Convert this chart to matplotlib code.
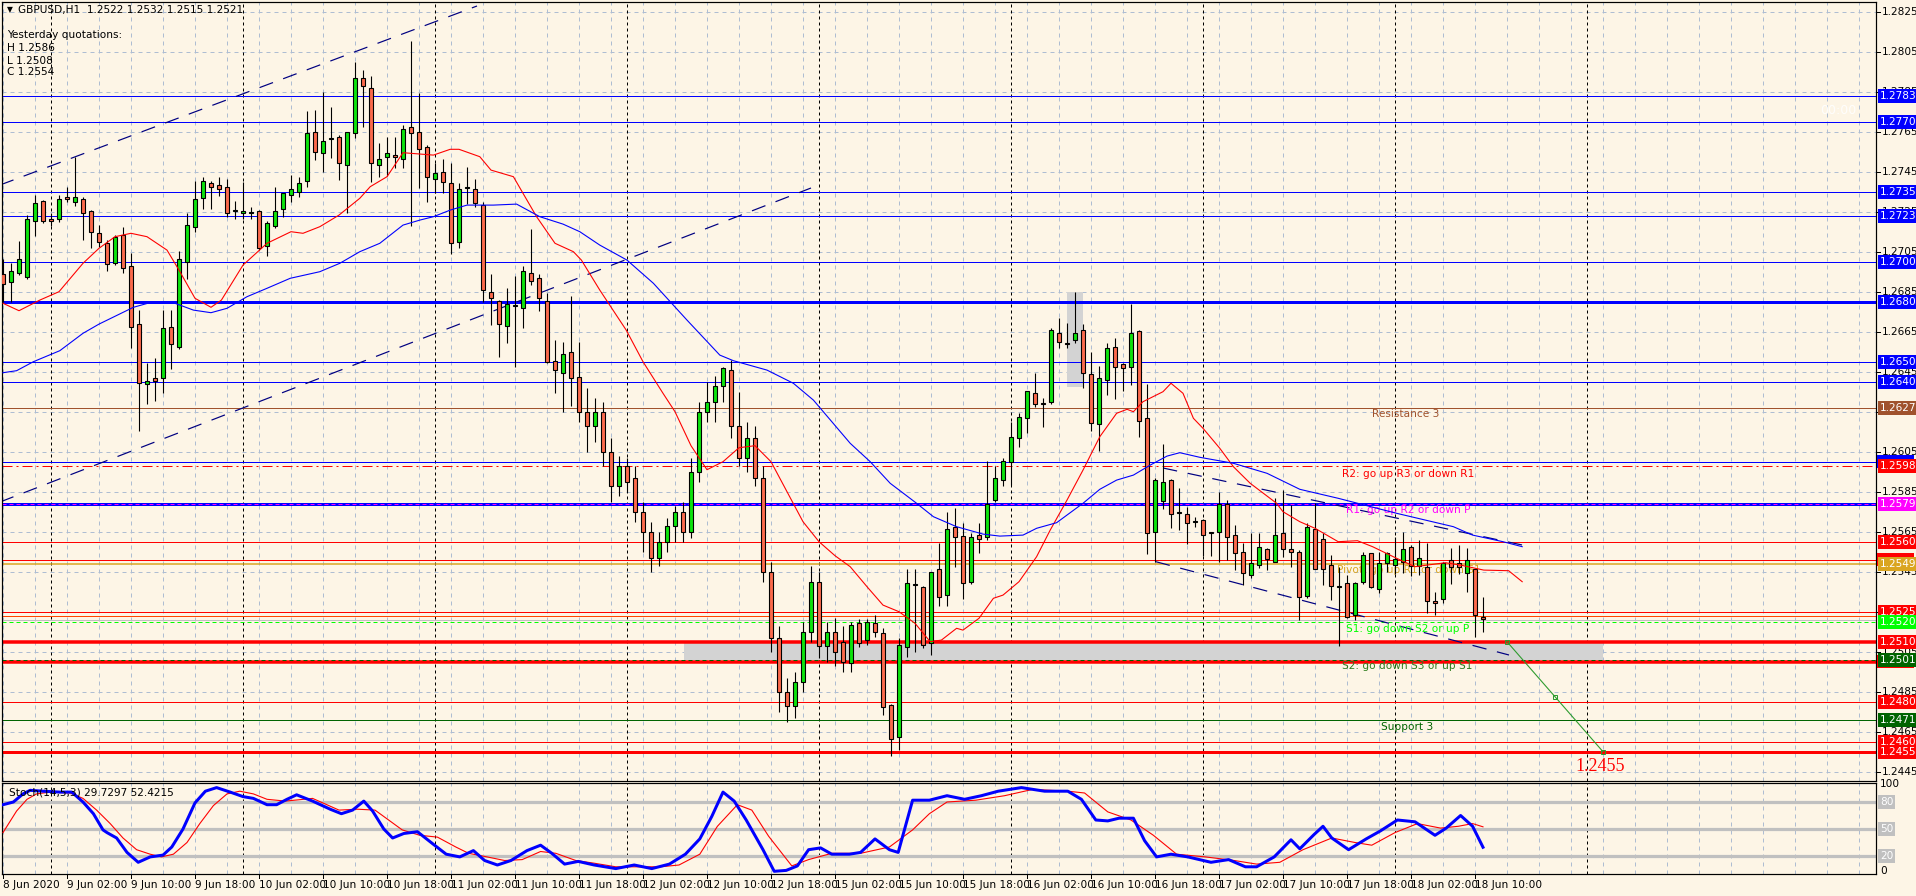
import matplotlib.pyplot as plt
import matplotlib.transforms as mtransforms
from matplotlib.patches import Rectangle

W, H, DPI = 1916, 896, 100
BG = '#fdf5e6'
GRID = '#aebdd2'

# hourly bars, first bar = 8 Jun 2020 18:00 (weekend skipped)
opens = [1.26939, 1.26897, 1.26945, 1.26925, 1.27202, 1.27304, 1.27214, 1.27212, 1.27322, 1.27300,
         1.27312, 1.27254, 1.27142, 1.27092, 1.26995, 1.27134, 1.26979, 1.26687, 1.26388, 1.26418,
         1.26417, 1.26675, 1.26575, 1.27000, 1.27172, 1.27320, 1.27392, 1.27382, 1.27372, 1.27254,
         1.27242, 1.27242, 1.27254, 1.27080, 1.27179, 1.27262, 1.27334, 1.27350, 1.27404, 1.27650,
         1.27542, 1.27612, 1.27622, 1.27482, 1.27642, 1.27920, 1.27870, 1.27482, 1.27522, 1.27534,
         1.27512, 1.27672, 1.27650, 1.27572, 1.27412, 1.27450, 1.27392, 1.27100, 1.27370, 1.27362,
         1.27284, 1.26847, 1.26805, 1.26678, 1.26778, 1.26767, 1.26945, 1.26917, 1.26805, 1.26505,
         1.26445, 1.26547, 1.26425, 1.26250, 1.26180, 1.26250, 1.26050, 1.25880, 1.25980, 1.25920,
         1.25750, 1.25650, 1.25520, 1.25600, 1.25680, 1.25750, 1.25650, 1.25950, 1.26250, 1.26300,
         1.26380, 1.26458, 1.26180, 1.26020, 1.26120, 1.25920, 1.25450, 1.25120, 1.24850, 1.24780,
         1.24900, 1.25150, 1.25400, 1.25080, 1.25150, 1.25100, 1.24992, 1.25192, 1.25108, 1.25192,
         1.25142, 1.24783, 1.24622, 1.25072, 1.25383, 1.25372, 1.25092, 1.25462, 1.25333, 1.25672,
         1.25629, 1.25400, 1.25633, 1.25622, 1.25808, 1.25908, 1.26000, 1.26120, 1.26217, 1.26345,
         1.26295, 1.26297, 1.26645, 1.26595, 1.26608, 1.26658, 1.26438, 1.26188, 1.26408, 1.26575,
         1.26487, 1.26475, 1.26655, 1.26217, 1.25650, 1.25805, 1.25908, 1.25745, 1.25737, 1.25700,
         1.25708, 1.25645, 1.25650, 1.25788, 1.25633, 1.25550, 1.25433, 1.25483, 1.25562, 1.25500,
         1.25642, 1.25562, 1.25550, 1.25328, 1.25662, 1.25612, 1.25483, 1.25378, 1.25392, 1.25233,
         1.25400, 1.25542, 1.25362, 1.25495, 1.25483, 1.25500, 1.25572, 1.25478, 1.25472, 1.25305,
         1.25312, 1.25508, 1.25495, 1.25442, 1.25462, 1.25222]
highs = [1.27012, 1.26992, 1.27104, 1.27234, 1.27334, 1.27310, 1.27242, 1.27334, 1.27372, 1.27525,
         1.27322, 1.27260, 1.27184, 1.27108, 1.27134, 1.27172, 1.27042, 1.26758, 1.26492, 1.26520,
         1.26758, 1.26758, 1.27054, 1.27242, 1.27404, 1.27422, 1.27404, 1.27422, 1.27412, 1.27304,
         1.27397, 1.27275, 1.27260, 1.27203, 1.27372, 1.27342, 1.27434, 1.27422, 1.27753, 1.27758,
         1.27850, 1.27775, 1.27634, 1.27650, 1.28000, 1.27960, 1.27930, 1.27592, 1.27622, 1.27625,
         1.27683, 1.28105, 1.27845, 1.27583, 1.27492, 1.27512, 1.27492, 1.27392, 1.27475, 1.27412,
         1.27300, 1.26938, 1.26808, 1.26867, 1.26928, 1.26978, 1.27162, 1.26940, 1.26842, 1.26608,
         1.26600, 1.26828, 1.26600, 1.26367, 1.26320, 1.26300, 1.26120, 1.26030, 1.26020, 1.25980,
         1.25800, 1.25700, 1.25650, 1.25720, 1.25780, 1.25800, 1.26020, 1.26300, 1.26400, 1.26428,
         1.26475, 1.26508, 1.26350, 1.26200, 1.26180, 1.25980, 1.25500, 1.25180, 1.24920, 1.24950,
         1.25200, 1.25480, 1.25450, 1.25200, 1.25220, 1.25180, 1.25200, 1.25212, 1.25212, 1.25233,
         1.25167, 1.24790, 1.25117, 1.25462, 1.25462, 1.25380, 1.25450, 1.25595, 1.25750, 1.25767,
         1.25695, 1.25642, 1.25692, 1.26005, 1.25978, 1.26017, 1.26200, 1.26245, 1.26355, 1.26445,
         1.26317, 1.26667, 1.26717, 1.26692, 1.26850, 1.26688, 1.26550, 1.26478, 1.26595, 1.26617,
         1.26492, 1.26788, 1.26660, 1.26388, 1.25917, 1.26088, 1.25912, 1.25867, 1.25775, 1.25725,
         1.25712, 1.25650, 1.25850, 1.25808, 1.25683, 1.25592, 1.25642, 1.25642, 1.25570, 1.25817,
         1.25858, 1.25783, 1.25560, 1.25692, 1.25792, 1.25645, 1.25533, 1.25475, 1.25433, 1.25400,
         1.25550, 1.25545, 1.25550, 1.25550, 1.25625, 1.25650, 1.25583, 1.25608, 1.25592, 1.25350,
         1.25500, 1.25567, 1.25583, 1.25567, 1.25470, 1.25322]
lows = [1.26800, 1.26800, 1.26934, 1.26915, 1.27128, 1.27195, 1.27180, 1.27200, 1.27300, 1.27278,
        1.27108, 1.27070, 1.27075, 1.26954, 1.26984, 1.26945, 1.26567, 1.26155, 1.26287, 1.26303,
        1.26345, 1.26465, 1.26565, 1.26913, 1.27150, 1.27262, 1.27262, 1.27329, 1.27225, 1.27212,
        1.27212, 1.27212, 1.27058, 1.27030, 1.27167, 1.27225, 1.27300, 1.27322, 1.27372, 1.27508,
        1.27450, 1.27520, 1.27408, 1.27242, 1.27620, 1.27675, 1.27400, 1.27422, 1.27428, 1.27467,
        1.27467, 1.27178, 1.27367, 1.27300, 1.27342, 1.27342, 1.27038, 1.27067, 1.27289, 1.27272,
        1.26800, 1.26683, 1.26525, 1.26595, 1.26475, 1.26667, 1.26883, 1.26755, 1.26495, 1.26345,
        1.26250, 1.26280, 1.26200, 1.26050, 1.26100, 1.25980, 1.25800, 1.25830, 1.25850, 1.25700,
        1.25550, 1.25450, 1.25480, 1.25550, 1.25600, 1.25600, 1.25620, 1.25900, 1.26200, 1.26200,
        1.26300, 1.26120, 1.25980, 1.25950, 1.25880, 1.25400, 1.25050, 1.24750, 1.24700, 1.24720,
        1.24850, 1.25100, 1.25020, 1.25000, 1.24980, 1.24950, 1.24950, 1.25075, 1.25085, 1.25122,
        1.24733, 1.24530, 1.24560, 1.25022, 1.25050, 1.25067, 1.25034, 1.25278, 1.25278, 1.25475,
        1.25312, 1.25390, 1.25542, 1.25608, 1.25800, 1.25880, 1.25883, 1.26075, 1.26145, 1.26272,
        1.26175, 1.26288, 1.26567, 1.26567, 1.26595, 1.26367, 1.26155, 1.26055, 1.26333, 1.26313,
        1.26355, 1.26383, 1.26125, 1.25538, 1.25500, 1.25762, 1.25670, 1.25658, 1.25588, 1.25675,
        1.25528, 1.25528, 1.25500, 1.25508, 1.25458, 1.25383, 1.25417, 1.25467, 1.25458, 1.25500,
        1.25525, 1.25475, 1.25208, 1.25320, 1.25462, 1.25383, 1.25308, 1.25080, 1.25220, 1.25208,
        1.25390, 1.25367, 1.25342, 1.25450, 1.25437, 1.25445, 1.25430, 1.25433, 1.25242, 1.25233,
        1.25295, 1.25388, 1.25440, 1.25350, 1.25122, 1.25150]
closes = [1.26889, 1.26955, 1.27012, 1.27212, 1.27292, 1.27202, 1.27202, 1.27312, 1.27312, 1.27322,
          1.27242, 1.27150, 1.27100, 1.26987, 1.27125, 1.26967, 1.26675, 1.26395, 1.26405, 1.26405,
          1.26667, 1.26587, 1.27012, 1.27183, 1.27312, 1.27404, 1.27372, 1.27362, 1.27242, 1.27254,
          1.27254, 1.27242, 1.27070, 1.27192, 1.27254, 1.27342, 1.27362, 1.27392, 1.27642, 1.27550,
          1.27604, 1.27612, 1.27492, 1.27650, 1.27920, 1.27880, 1.27492, 1.27512, 1.27542, 1.27522,
          1.27662, 1.27642, 1.27562, 1.27422, 1.27442, 1.27400, 1.27092, 1.27362, 1.27370, 1.27292,
          1.26858, 1.26817, 1.26688, 1.26788, 1.26778, 1.26955, 1.26905, 1.26817, 1.26500, 1.26458,
          1.26537, 1.26417, 1.26250, 1.26180, 1.26250, 1.26050, 1.25880, 1.25980, 1.25900, 1.25750,
          1.25650, 1.25520, 1.25600, 1.25680, 1.25750, 1.25650, 1.25950, 1.26250, 1.26300, 1.26380,
          1.26467, 1.26180, 1.26020, 1.26120, 1.25920, 1.25450, 1.25120, 1.24850, 1.24780, 1.24900,
          1.25150, 1.25400, 1.25080, 1.25150, 1.25050, 1.25000, 1.25183, 1.25092, 1.25200, 1.25150,
          1.24775, 1.24612, 1.25083, 1.25392, 1.25383, 1.25083, 1.25450, 1.25325, 1.25662, 1.25622,
          1.25395, 1.25622, 1.25612, 1.25788, 1.25917, 1.26005, 1.26125, 1.26225, 1.26355, 1.26288,
          1.26288, 1.26658, 1.26600, 1.26587, 1.26645, 1.26445, 1.26195, 1.26417, 1.26567, 1.26475,
          1.26467, 1.26645, 1.26205, 1.25642, 1.25908, 1.25897, 1.25737, 1.25745, 1.25692, 1.25700,
          1.25633, 1.25645, 1.25788, 1.25622, 1.25542, 1.25442, 1.25492, 1.25572, 1.25512, 1.25633,
          1.25562, 1.25550, 1.25322, 1.25675, 1.25462, 1.25462, 1.25378, 1.25372, 1.25225, 1.25392,
          1.25533, 1.25372, 1.25495, 1.25542, 1.25512, 1.25562, 1.25478, 1.25520, 1.25305, 1.25295,
          1.25495, 1.25475, 1.25475, 1.25508, 1.25233, 1.25212]

# moving averages (bar position, price)
ma_red_x = [0, 2, 4.6, 7, 10, 12, 14, 16, 18, 20.5, 22, 24, 26, 27.3, 30, 33, 36, 37.5, 39.6, 42,
            44.6, 45.9, 48, 50, 53.8, 55.9, 57, 59.6, 61, 63.8, 65, 66.7, 69, 71.3, 72.3, 74.6, 77.9,
            80, 82.5, 84, 86, 88, 90, 92, 94, 96, 98, 100, 102, 104, 105.9, 108, 110, 112, 114,
            115.9, 117.3, 119.2, 120, 122, 123.8, 125, 127, 129.2, 130.9, 133, 135, 137.1, 139.2,
            140.5, 141.3, 142.5, 145, 146, 147.5, 148.8, 150, 152.1, 153.8, 155.9, 159.2, 160, 162.1,
            164, 166.9, 169.3, 171.2, 174.2, 176.5, 180.3, 182.2, 185.1, 188.2, 189.9]
ma_red_y = [1.26792, 1.26755, 1.26808, 1.26850, 1.26992, 1.27067, 1.27125, 1.27142, 1.27125, 1.27058,
            1.26958, 1.26817, 1.26772, 1.26808, 1.26983, 1.27092, 1.27150, 1.27142, 1.27175, 1.27233,
            1.27317, 1.27375, 1.27425, 1.27545, 1.27533, 1.27562, 1.27562, 1.27525, 1.27458, 1.27425,
            1.27342, 1.27225, 1.27092, 1.27050, 1.27008, 1.26858, 1.26658, 1.26500, 1.26342, 1.26250,
            1.26080, 1.25960, 1.26000, 1.26070, 1.26080, 1.26000, 1.25850, 1.25700, 1.25600, 1.25530,
            1.25475, 1.25375, 1.25283, 1.25250, 1.25192, 1.25100, 1.25108, 1.25167, 1.25158, 1.25217,
            1.25317, 1.25333, 1.25400, 1.25525, 1.25658, 1.25808, 1.25958, 1.26125, 1.26242, 1.26262,
            1.26250, 1.26300, 1.26350, 1.26392, 1.26342, 1.26217, 1.26167, 1.26067, 1.25975, 1.25892,
            1.25792, 1.25750, 1.25700, 1.25667, 1.25600, 1.25605, 1.25575, 1.25517, 1.25475, 1.25495,
            1.25483, 1.25458, 1.25455, 1.25400]
ma_blue_x = [0, 1.7, 3.8, 7.1, 10, 12, 16.3, 18.8, 21.3, 23.8, 26, 28, 30.5, 33, 35.9, 39.6, 42.1,
             44.6, 47.1, 50, 52.1, 53.8, 55.9, 58, 61.3, 64.2, 67.1, 70, 72.1, 74.6, 78, 81.3, 85.5,
             89.6, 91.3, 95.5, 98.8, 101.3, 105.9, 108.4, 110.9, 114.2, 116.3, 119.2, 122.5, 124.6,
             127.5, 129.2, 131.7, 135, 137.1, 139.2, 141.3, 143.4, 145.5, 147.1, 149.6, 153.8, 158,
             162.1, 166.9, 174.2, 181.3, 183.7, 187.5, 189.9]
ma_blue_y = [1.26445, 1.26455, 1.26500, 1.26555, 1.26642, 1.26688, 1.26772, 1.26800, 1.26795, 1.26758,
             1.26745, 1.26767, 1.26825, 1.26867, 1.26917, 1.26950, 1.26992, 1.27050, 1.27092, 1.27183,
             1.27208, 1.27225, 1.27258, 1.27283, 1.27283, 1.27288, 1.27225, 1.27188, 1.27150, 1.27083,
             1.27008, 1.26892, 1.26708, 1.26533, 1.26505, 1.26458, 1.26392, 1.26308, 1.26092, 1.26000,
             1.25892, 1.25792, 1.25725, 1.25675, 1.25638, 1.25628, 1.25633, 1.25667, 1.25695, 1.25792,
             1.25862, 1.25908, 1.25933, 1.25983, 1.26028, 1.26045, 1.26022, 1.25992, 1.25942, 1.25862,
             1.25817, 1.25742, 1.25675, 1.25633, 1.25600, 1.25575]

# Stochastic(14,5,3)
stoch_k_x = [0, 1.3, 2.5, 3.4, 5, 7.1, 8.6, 10, 11.3, 12.5, 13, 14.2, 15.5, 16.9, 18.4, 20, 21.1, 22.5,
             24, 25.3, 26.7, 28.4, 30, 31.3, 33, 34.2, 35.5, 36.7, 38.7, 40.9, 42.3, 43.7, 45.1, 46.2,
             47.6, 48.7, 50.1, 51.8, 53.8, 55.4, 57.1, 58.8, 60.2, 61.8, 63.5, 65.5, 67.2, 68.6, 70.2,
             71.9, 73.9, 76.6, 78.9, 81.1, 83.3, 85.3, 87.1, 88.6, 90, 91.4, 92.9, 95, 96.4, 97.9, 99.3,
             100.7, 102.2, 103.6, 105.8, 107.2, 109, 110.8, 111.9, 113.7, 115.8, 118, 120.2, 122.3,
             124.4, 127.3, 130.2, 133.1, 134.8, 136.6, 138.1, 139.5, 141.3, 142.7, 144.2, 146, 148.1,
             151, 153.2, 155.3, 156.7, 158.9, 161, 162.1, 163.9, 165, 166.1, 168.2, 170.4, 172.2,
             174.3, 176.5, 179, 180.4, 182.2, 183.7, 185]
stoch_k = [77, 80, 89, 93, 92, 91, 91, 80, 67, 49, 46, 40, 24, 13, 19, 21, 30, 50, 79, 92, 96, 91, 86,
           84, 77, 77, 83, 88, 81, 72, 67, 71, 81, 70, 50, 40, 45, 47, 33, 22, 19, 26, 15, 10, 15, 26,
           32, 23, 11, 14, 10, 6, 10, 6, 11, 22, 39, 64, 91, 81, 60, 27, 3, 4, 9, 27, 29, 22, 22, 24,
           39, 27, 24, 82, 82, 87, 83, 87, 92, 96, 92, 92, 83, 60, 59, 62, 62, 37, 19, 22, 19, 13, 16,
           8, 8, 19, 38, 28, 44, 53, 40, 27, 39, 48, 60, 58, 43, 51, 65, 53, 29.7297]
stoch_d_x = [0, 1.7, 3, 4.2, 5.9, 8.4, 10, 11.7, 13.4, 15, 16.7, 18.4, 19.8, 21.3, 23, 24.6, 26.3, 28,
             29.6, 31.3, 33, 35.3, 38.7, 42, 44.3, 46.5, 48.2, 49.9, 52.1, 54.3, 56.6, 58.2, 60.5, 62.7,
             64.9, 67.2, 69.1, 71.6, 73.9, 76.6, 79.4, 82.2, 84.5, 87.1, 89.3, 91.8, 93.6, 95.7, 98.6,
             100.7, 103.6, 107.2, 110.8, 113.7, 115.8, 118, 121.6, 125.2, 128.7, 133.1, 135.2, 138.1,
             141, 143.8, 146.7, 150.3, 153.9, 156.7, 159.6, 162.5, 166.1, 169, 171.1, 174, 176.8,
             179.7, 181.9, 183.7, 185]
stoch_d = [46, 70, 83, 89, 91, 90, 84, 71, 56, 40, 27, 22, 19, 22, 35, 56, 76, 89, 92, 89, 83, 81, 84,
           71, 72, 71, 60, 49, 43, 41, 30, 23, 19, 15, 16, 25, 23, 15, 12, 8, 8, 8, 10, 22, 53, 77,
           71, 42, 9, 16, 23, 23, 30, 49, 67, 80, 82, 87, 94, 92, 90, 69, 60, 43, 22, 19, 15, 11, 13,
           27, 40, 35, 32, 46, 56, 51, 53, 56, 52.4215]

time_labels = ['8 Jun 2020', '9 Jun 02:00', '9 Jun 10:00', '9 Jun 18:00', '10 Jun 02:00',
               '10 Jun 10:00', '10 Jun 18:00', '11 Jun 02:00', '11 Jun 10:00', '11 Jun 18:00',
               '12 Jun 02:00', '12 Jun 10:00', '12 Jun 18:00', '15 Jun 02:00', '15 Jun 10:00',
               '15 Jun 18:00', '16 Jun 02:00', '16 Jun 10:00', '16 Jun 18:00', '17 Jun 02:00',
               '17 Jun 10:00', '17 Jun 18:00', '18 Jun 02:00', '18 Jun 10:00']
day_starts = [6, 30, 54, 78, 102, 126, 150, 174, 198]

# horizontal levels: price, colour, width(px), style, label kind on the price scale
# label kind: 'text' = full label, 'strip' = label hidden behind a neighbour, None = no label
levels = [
    (1.2783, '#0000ff', 1, '-', 'text'), (1.2770, '#0000ff', 1, '-', 'text'),
    (1.2735, '#0000ff', 1, '-', 'text'), (1.2723, '#0000ff', 1, '-', 'text'),
    (1.2700, '#0000ff', 1, '-', 'text'), (1.2680, '#0000ff', 3, '-', 'text'),
    (1.2650, '#0000ff', 1, '-', 'text'), (1.2640, '#0000ff', 1, '-', 'text'),
    (1.2627, '#a0522d', 1, '-', 'text'), (1.2600, '#0000ff', 1, '-', 'strip'),
    (1.2598, '#ff0000', 1, '-.', 'text'), (1.2579, '#0000ff', 3, '-', None),
    (1.2579, '#ff00ff', 1, '--', 'text'), (1.2560, '#ff0000', 1, '-', 'text'),
    (1.2551, '#ff0000', 1, '-', 'strip'), (1.2549, '#daa520', 1.5, '-', 'text'),
    (1.2525, '#ff0000', 1, '-', 'text'), (1.2523, '#ff4500', 1, '-', None),
    (1.2521, '#c0c0c0', 1, '-', None), (1.2520, '#00ff00', 1, '--', 'text'),
    (1.2510, '#ff0000', 3.5, '-', 'text'), (1.2500, '#ff0000', 3.5, '-', 'strip'),
    (1.2501, '#006400', 1, '--', 'text'), (1.2480, '#ff0000', 1, '-', 'text'),
    (1.2471, '#006400', 1, '-', 'text'), (1.2460, '#ff0000', 1, '-', 'text'),
    (1.2455, '#ff0000', 3, '-', 'text'),
]
level_texts = [
    (171.1, 1.26239, 'Resistance 3', '#a0522d'),
    (167.4, 1.25939, 'R2: go up R3 or down R1', '#ff0000'),
    (167.9, 1.25759, 'R1: go up R2 or down P', '#ff00ff'),
    (166.75, 1.25459, 'Pivot: go up R1 or down S1', '#daa520'),
    (167.9, 1.25164, 'S1: go down S2 or up P', '#00ff00'),
    (167.4, 1.24979, 'S2: go down S3 or up S1', '#2e7d1e'),
    (172.25, 1.24674, 'Support 3', '#006400'),
]
trend_lines = [
    ([-0.375, 59.25], [1.273835, 1.282785]),
    ([-0.375, 101.0], [1.257985, 1.273685]),
    ([145.0, 189.9], [1.259685, 1.255835]),
    ([144.1, 188.25], [1.25500, 1.250335]),
]
target_x = [188, 194, 200]
target_y = [1.2510, 1.24825, 1.2455]

PX = 72 / DPI  # one pixel in points
fig = plt.figure(figsize=(W / DPI, H / DPI), dpi=DPI, facecolor=BG)


def px_rect(x0, y0, x1, y1):
    return [x0 / W, 1 - y1 / H, (x1 - x0) / W, (y1 - y0) / H]


ax = fig.add_axes(px_rect(2, 2, 1876, 781))
st = fig.add_axes(px_rect(2, 783, 1876, 874))
xlim = ((2 - 3) / 8, (1876 - 3) / 8)
p_top = 1.2445 + (771.7 - 2) / 20000
p_bot = 1.2445 - (781 - 771.7) / 20000
price_ticks = [1.2445 + 0.002 * k for k in range(20)]

for a in (ax, st):
    a.set_facecolor(BG)
    a.set_xlim(*xlim)
    a.set_xticks([])
    a.set_yticks([])
    for s in a.spines.values():
        s.set_color('black')
        s.set_linewidth(1.2 * PX)
    for g in range(0, 236, 4):
        a.axvline(g, color=GRID, lw=PX, ls=(0, (4, 4)), zorder=0.5)
    for d in day_starts:
        a.axvline(d, color='black', lw=PX, ls=(0, (3, 3)), zorder=0.6)

ax.set_ylim(p_bot, p_top)
for p in price_ticks:
    ax.axhline(p, color=GRID, lw=PX, ls=(0, (4, 4)), zorder=0.5)

# grey zones
ax.add_patch(Rectangle((85.1, 1.2501), 200 - 85.1, 0.0009, fc='#d3d3d3', ec='none', zorder=0.8))
ax.add_patch(Rectangle((133.0, 1.26372), 2.0, 0.00478, fc='#d3d3d3', ec='none', zorder=0.8))

# horizontal levels
for p, c, w, ls, _ in levels:
    dash = {'-': '-', '--': (0, (4, 3)), '-.': (0, (10, 4, 2, 4))}[ls]
    ax.axhline(p, color=c, lw=w * PX, ls=dash, zorder=1)

# trend channel lines
for xs, ys in trend_lines:
    ax.plot(xs, ys, color='#000080', lw=1.2 * PX, ls=(0, (12, 9)), zorder=1.2)

# candles
idx = list(range(len(closes)))
bottoms = [min(o, c) for o, c in zip(opens, closes)]
heights = [max(abs(c - o), 0.00004) for o, c in zip(opens, closes)]
colors = ['#0de30d' if c >= o else '#fb6a4c' for o, c in zip(opens, closes)]
ax.vlines(idx, lows, highs, color='black', lw=1.1 * PX, zorder=3)
ax.bar(idx, heights, bottom=bottoms, width=0.62, color=colors,
       edgecolor='black', linewidth=1.1 * PX, zorder=4)

# moving averages
ax.plot(ma_red_x, ma_red_y, color='#ff0000', lw=1.1 * PX, zorder=5)
ax.plot(ma_blue_x, ma_blue_y, color='#0000ff', lw=1.1 * PX, zorder=5)

# projection to target
ax.plot(target_x, target_y, color='#2e9b2e', lw=1.1 * PX, marker='s', ms=5 * PX,
        mfc='none', mec='#2e9b2e', mew=PX, zorder=5)
ax.text(196.6, 1.24478, '1.2455', color='#ff0000', fontsize=13, va='center', ha='left',
        family=['Liberation Serif', 'DejaVu Serif'], zorder=6)

for x, y, t, c in level_texts:
    ax.text(x, y, t, color=c, fontsize=7.6, va='center', ha='left', zorder=2)

# top-left info
fig.text(7 / W, 1 - 10 / H, '\u25bc', fontsize=5.5, va='center', ha='left')
fig.text(18 / W, 1 - 10 / H, 'GBPUSD,H1  1.2522 1.2532 1.2515 1.2521', fontsize=7.6,
         va='center', ha='left')
for yy, t in zip([35, 48, 61, 72], ['Yesterday quotations:', 'H 1.2586', 'L 1.2508', 'C 1.2554']):
    fig.text(7 / W, 1 - yy / H, t, fontsize=7.6, va='center', ha='left')
fig.text(1856 / W, 1 - 110 / H, '00:00', fontsize=9, color='white', alpha=0.9,
         va='center', ha='right')

# price scale
tr = mtransforms.blended_transform_factory(fig.transFigure, ax.transData)
for p in price_ticks:
    ax.plot([1876 / W, 1880 / W], [p, p], color='black', lw=PX, transform=tr, clip_on=False)
    ax.text(1882 / W, p, '%.4f' % p, fontsize=7.6, va='center', ha='left', transform=tr,
            clip_on=False)
for p, c, w, ls, kind in levels:
    if kind == 'strip':
        ax.add_patch(Rectangle((1877 / W, p - 0.00034), 37 / W, 0.00068, fc=c, ec='none',
                               transform=tr, clip_on=False, zorder=6))
    elif kind == 'text':
        ax.text(1880 / W, p, '%.4f' % p, fontsize=7.6, va='center', ha='left', color='white',
                transform=tr, clip_on=False, zorder=7,
                bbox=dict(boxstyle='square,pad=0.18', fc=c, ec=c, lw=0))

# stochastic window
st.set_ylim(0, (874 - 783) / 0.9)
for lv in (20, 50, 80):
    st.axhline(lv, color='#c0c0c0', lw=3.2 * PX, zorder=1)
st.plot(stoch_d_x, stoch_d, color='#ff0000', lw=1.1 * PX, zorder=3)
st.plot(stoch_k_x, stoch_k, color='#0000ff', lw=3 * PX, zorder=4)
st.text(7 / 1874, 1 - 9 / 91, 'Stoch(14,5,3) 29.7297 52.4215', transform=st.transAxes,
        fontsize=7.6, va='center', ha='left', zorder=6)
trs = mtransforms.blended_transform_factory(fig.transFigure, st.transData)
st.text(1880 / W, 100, '100', fontsize=7.6, va='center', ha='left', transform=trs, clip_on=False)
st.text(1880 / W, 3, '0', fontsize=7.6, va='center', ha='left', transform=trs, clip_on=False)
for lv in (20, 50, 80):
    st.text(1880 / W, lv, str(lv), fontsize=7.6, va='center', ha='left', color='white',
            transform=trs, clip_on=False,
            bbox=dict(boxstyle='square,pad=0.18', fc='#c0c0c0', ec='#c0c0c0', lw=0))

# time scale
trx = mtransforms.blended_transform_factory(st.transData, fig.transFigure)
for k, lab in enumerate(time_labels):
    xi = 8 * k
    st.plot([xi, xi], [1 - 874 / H, 1 - 878 / H], color='black', lw=PX, transform=trx,
            clip_on=False)
    st.text(xi, 1 - 885 / H, lab, fontsize=7.6, va='center', ha='left', transform=trx,
            clip_on=False)

fig.savefig('out.png', dpi=DPI, facecolor=BG)
